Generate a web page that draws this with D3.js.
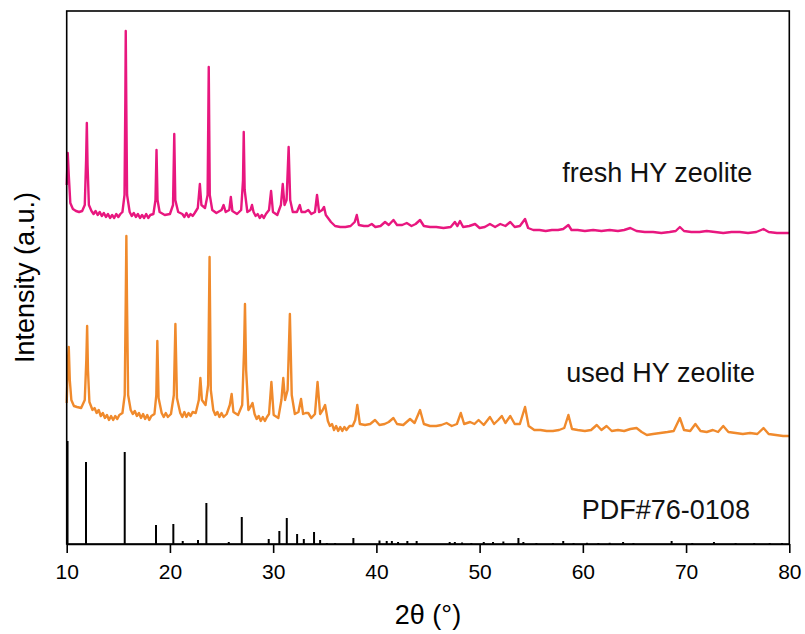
<!DOCTYPE html>
<html>
<head>
<meta charset="utf-8">
<script src="https://cdn.jsdelivr.net/npm/d3@7"></script>
<style>
  html, body { margin: 0; padding: 0; background: #fff; }
  svg { display: block; font-family: "Liberation Sans", Arial, sans-serif; }
</style>
</head>
<body>
<svg id="chart" width="805" height="634"></svg>
<script>
// ---- Data (2θ in degrees, intensity in a.u., curves offset-stacked) ----
const xTicks = [10, 20, 30, 40, 50, 60, 70, 80];

const freshTrace = [
  [10.0,359],[10.1,391],[10.2,369],[10.35,341],[10.6,335],[10.9,333],[11.2,332],[11.5,333],
  [11.75,339],[11.88,384],[11.95,421],[12.02,379],[12.15,339],
  [12.4,333],[12.6,330],[12.8,333],[13.0,329],[13.2,332],[13.4,328],[13.6,331],[13.8,327],
  [14.0,330],[14.2,326],[14.4,329],[14.6,326],[14.8,330],[15.0,327],[15.2,330],[15.4,332],
  [15.6,349],[15.68,444],[15.72,513],[15.77,444],[15.85,349],
  [16.1,332],[16.3,328],[16.5,331],[16.7,327],[16.9,330],[17.1,326],[17.3,329],[17.5,326],
  [17.7,330],[17.9,326],[18.1,329],[18.4,330],
  [18.6,344],[18.7,394],[18.8,344],[19.0,332],[19.5,329],[20.0,330],[20.3,339],[20.42,410],
  [20.52,344],[20.8,332],
  [21.2,330],[21.4,327],[21.6,331],[21.8,327],[22.0,330],[22.2,328],[22.4,331],
  [22.7,336],[22.9,360],
  [23.05,339],[23.4,336],[23.65,349],[23.76,477],[23.86,349],[24.1,334],[24.5,331],[25.0,334],
  [25.2,339],[25.4,332],[25.75,334],[25.9,347],[26.05,333],[26.5,330],[26.9,334],[27.08,364],
  [27.15,412],[27.24,354],[27.5,332],[27.8,334],[27.95,339],
  [28.1,332],[28.3,328],[28.5,330],[28.7,326],[28.9,329],[29.1,326],[29.3,330],
  [29.6,334],[29.8,353],[29.98,332],[30.4,329],[30.75,339],[30.93,360],[31.1,339],[31.3,344],
  [31.5,397],[31.65,344],[31.9,332],[32.3,332],[32.58,339],[32.75,332],[33.1,332],[33.4,334],
  [33.7,330],[34.05,332],[34.25,349],[34.45,332],[34.75,334],[34.93,337],[35.1,329],[35.6,322],
  [36.0,318],[36.5,317],[37.0,317],[37.5,318],[37.9,322],[38.1,329],[38.3,319],[38.8,318],
  [39.2,318],[39.55,320],[39.9,317],[40.4,318],[40.84,322],[41.2,319],[41.65,324],[42.0,319],
  [42.5,319],[42.94,321],[43.4,318],[43.8,320],[44.23,324],[44.6,318],[45.2,317],[45.8,317],
  [46.5,316],[47.2,317],[47.6,322],[47.85,318],[48.1,323],[48.4,317],[49.0,318],[49.56,320],
  [50.0,316],[50.5,317],[51.0,320],[51.5,317],[52.0,320],[52.5,318],[52.97,322],[53.4,317],
  [53.9,318],[54.4,325],[54.7,316],[55.2,314],[55.8,314],[56.4,313],[57.0,314],[57.6,314],
  [58.1,315],[58.6,319],[58.9,314],[59.5,314],[60.2,313],[61.0,314],[61.8,313],[62.6,314],
  [63.4,313],[64.0,314],[64.6,316],[65.2,313],[66.0,312],[66.8,312],[67.6,311],[68.4,312],
  [69.0,313],[69.4,317],[69.8,313],[70.5,312],[71.3,312],[72.0,313],[72.8,312],[73.6,311],
  [74.4,312],[75.2,312],[76.0,311],[76.8,312],[77.5,315],[78.0,312],[78.8,311],[79.5,311],
  [80.0,311]
];

const usedTrace = [
  [10.0,141],[10.12,184],[10.2,197],[10.3,164],[10.45,144],[10.7,138],[11.0,137],[11.4,136],
  [11.75,144],[11.9,184],[11.98,218],[12.06,174],[12.2,142],
  [12.5,134],[12.7,136],[12.9,131],[13.1,134],[13.3,128],[13.5,131],[13.7,126],[13.9,129],
  [14.1,124],[14.3,128],[14.5,124],[14.7,128],[14.9,125],[15.1,129],[15.4,131],
  [15.62,149],[15.72,244],[15.78,308],[15.84,244],[15.95,149],
  [16.2,134],[16.4,130],[16.6,133],[16.8,128],[17.0,131],[17.2,126],[17.4,130],[17.6,125],
  [17.8,129],[18.0,124],[18.2,128],[18.5,130],
  [18.68,149],[18.78,203],[18.9,146],
  [19.2,131],[19.4,127],[19.6,131],[19.8,127],[20.1,130],
  [20.38,149],[20.53,220],[20.68,146],
  [21.0,131],[21.2,127],[21.4,132],[21.6,127],[21.8,131],[22.0,128],[22.2,132],[22.5,131],
  [22.8,144],[22.95,166],[23.1,144],[23.45,139],
  [23.7,159],[23.84,287],[23.96,154],
  [24.2,134],[24.4,129],[24.6,132],[24.8,127],[25.0,131],[25.2,127],[25.5,130],
  [25.8,139],[25.98,150],[26.15,132],[26.6,129],[27.0,139],[27.18,194],[27.27,240],[27.38,174],
  [27.6,134],[27.85,138],[28.0,141],
  [28.2,130],[28.4,125],[28.6,128],[28.8,123],[29.0,127],[29.2,123],[29.4,127],[29.6,130],
  [29.83,162],[30.05,129],
  [30.5,126],[30.8,144],[30.98,166],[31.15,144],[31.4,154],[31.62,230],[31.8,149],[32.1,130],
  [32.45,132],[32.7,145],[32.9,130],[33.15,131],[33.4,131],[33.7,126],[34.05,130],[34.3,162],
  [34.55,130],[34.8,134],[35.03,139],
  [35.3,123],[35.5,118],[35.7,120],[35.9,114],[36.1,118],[36.3,113],[36.5,117],[36.7,113],
  [36.9,117],[37.1,114],[37.4,118],[37.7,118],
  [37.95,124],[38.15,139],[38.4,120],[38.9,119],[39.4,120],[39.87,124],[40.3,119],
  [40.8,120],[41.2,122],[41.65,126],[42.0,120],[42.6,119],[43.26,125],[43.7,121],[44.23,134],
  [44.6,120],[45.2,118],[45.8,118],[46.3,119],[46.8,121],[47.3,118],[47.8,120],[48.18,131],
  [48.5,120],[49.08,122],[49.5,120],[49.9,124],[50.4,119],[51.0,127],[51.4,120],[51.8,124],
  [52.15,128],[52.5,121],[52.97,128],[53.4,120],[53.9,120],[54.4,137],[54.75,118],[55.3,114],
  [55.9,114],[56.5,113],[57.1,113],[57.7,114],[58.2,116],[58.6,129],[58.95,115],[59.5,114],
  [60.2,113],[60.8,114],[61.35,119],[61.8,114],[62.3,118],[62.8,113],[63.4,114],[64.0,113],
  [64.6,115],[65.2,116],[65.7,112],[66.2,109],[66.8,110],[67.5,111],[68.2,112],[68.8,113],
  [69.4,126],[69.8,114],[70.4,113],[70.9,120],[71.4,113],[72.0,112],[72.6,114],[73.1,112],
  [73.6,118],[74.1,112],[74.8,111],[75.5,110],[76.2,111],[76.9,110],[77.5,116],[78.0,110],
  [78.7,109],[79.4,108],[80.0,108]
];

// PDF#76-0108 reference lines: [2θ, relative intensity]
const pdfSticks = [
  [10.08,103],[11.87,82],[15.62,92],[18.65,19],[20.33,20],[21.24,3],[22.72,4],[23.53,41],
  [25.7,2],[26.96,27],[29.57,5],[30.6,13],[31.32,26],[32.32,10],[32.97,5],[33.96,12],
  [34.55,4],[35.2,1],[36.0,1],[37.77,6],[40.3,3.5],[41.0,3],[41.5,3],[42.1,2],[43.0,3],
  [43.9,3],[47.1,2],[47.6,2],[48.3,1.5],[49.2,1],[50.4,2],[51.3,2],[52.3,2.5],[53.76,6],
  [54.24,2],[55.5,1],[57.1,1],[58.1,3],[59.1,1],[60.4,1.2],[61.5,1],[62.6,1.2],[63.9,2],
  [64.9,1],[68.6,3],[70.6,1],[72.7,2],[74.8,1],[76.6,1],[78.1,1],[79.3,1]
];

const seriesLabels = ["fresh HY zeolite", "used HY zeolite", "PDF#76-0108"];
const seriesColors = ["#E8177F", "#F08A2C", "#000000"];

// ---- Layout ----
const svg = d3.select("#chart");
const L = 66.7, R = 789.3, T = 11, B = 544;

const x = d3.scaleLinear().domain([10, 80]).range([L, R]);
const y = d3.scaleLinear().domain([0, 533]).range([B, T]);

const line = d3.line().x(d => x(d[0])).y(d => y(d[1]));

// traces
svg.append("path").datum(usedTrace)
  .attr("d", line).attr("fill", "none")
  .attr("stroke", seriesColors[1]).attr("stroke-width", 2.4)
  .attr("stroke-linejoin", "round");
svg.append("path").datum(freshTrace)
  .attr("d", line).attr("fill", "none")
  .attr("stroke", seriesColors[0]).attr("stroke-width", 2.4)
  .attr("stroke-linejoin", "round");

// sticks
svg.append("g").selectAll("line").data(pdfSticks).join("line")
  .attr("x1", d => x(d[0])).attr("x2", d => x(d[0]))
  .attr("y1", y(0)).attr("y2", d => y(d[1]))
  .attr("stroke", seriesColors[2]).attr("stroke-width", 2);

// frame
svg.append("rect")
  .attr("x", L).attr("y", T).attr("width", R - L).attr("height", B - T)
  .attr("fill", "none").attr("stroke", "#000").attr("stroke-width", 1.6);

// x axis
const xAxis = d3.axisBottom(x).tickValues(xTicks).tickSize(9).tickPadding(11).tickSizeOuter(0);
const gx = svg.append("g").attr("transform", `translate(0,${B})`).call(xAxis);
gx.select(".domain").attr("stroke", "#000").attr("stroke-width", 1.6);
gx.selectAll(".tick line").attr("stroke", "#000").attr("stroke-width", 1.6);
gx.selectAll(".tick text")
  .attr("fill", "#000")
  .style("font-size", "21px")
  .style("font-family", "'Liberation Sans', Arial, sans-serif");

// axis titles
svg.append("text")
  .attr("x", (L + R) / 2).attr("y", 624)
  .attr("text-anchor", "middle")
  .style("font-size", "27px")
  .text("2θ (°)");

svg.append("text")
  .attr("transform", `translate(34,${(T + B) / 2}) rotate(-90)`)
  .attr("text-anchor", "middle")
  .style("font-size", "27px")
  .text("Intensity (a.u.)");

// series labels
const labelPos = [[58.0, 182], [58.4, 382], [59.9, 519]];
svg.append("g").selectAll("text").data(seriesLabels).join("text")
  .attr("x", (d, i) => x(labelPos[i][0]))
  .attr("y", (d, i) => labelPos[i][1])
  .style("font-size", "27px")
  .attr("fill", "#111")
  .text(d => d);
</script>
</body>
</html>
